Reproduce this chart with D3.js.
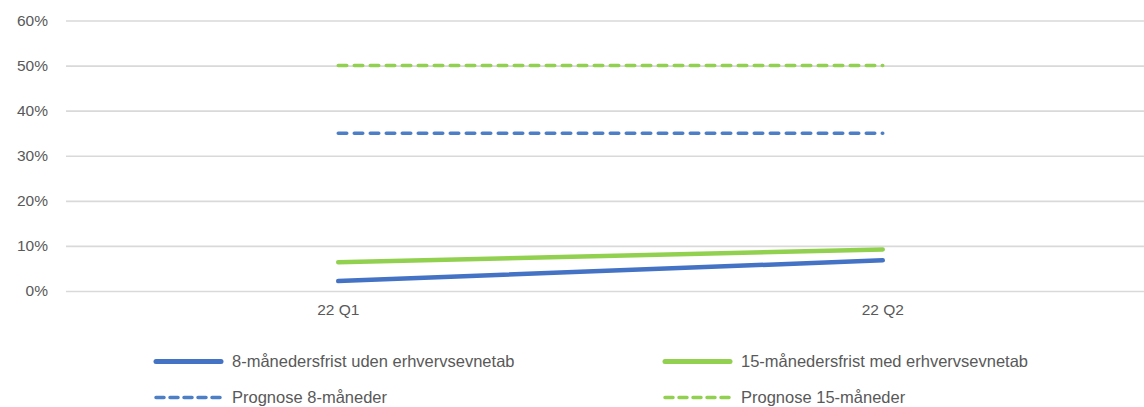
<!DOCTYPE html>
<html>
<head>
<meta charset="utf-8">
<script src="https://cdn.jsdelivr.net/npm/d3@7"></script>
<style>
  html, body { margin: 0; padding: 0; background: #fff; }
  svg { display: block; font-family: "Liberation Sans", Arial, sans-serif; }
</style>
</head>
<body>
<svg id="chart" width="1144" height="407"></svg>
<script>
const categories = ["22 Q1", "22 Q2"];
const series8 = [0.022, 0.068];
const series15 = [0.064, 0.092];
const prognose8 = [0.35, 0.35];
const prognose15 = [0.50, 0.50];
const yTicks = [0, 0.1, 0.2, 0.3, 0.4, 0.5, 0.6];

const seriesList = [
  { name: "8-månedersfrist uden erhvervsevnetab", values: series8, color: "#4472C4", dashed: false },
  { name: "15-månedersfrist med erhvervsevnetab", values: series15, color: "#92D050", dashed: false },
  { name: "Prognose 8-måneder", values: prognose8, color: "#4C7FC6", dashed: true },
  { name: "Prognose 15-måneder", values: prognose15, color: "#92D050", dashed: true }
];

const svg = d3.select("#chart");
const plotLeft = 66, plotRight = 1155, plotTop = 20.5, plotBottom = 291;

const x = d3.scaleBand().domain(categories).range([plotLeft, plotRight]).padding(0);
const y = d3.scaleLinear().domain([0, 0.6]).range([plotBottom, plotTop]);

// gridlines
const grid = svg.append("g").attr("transform", `translate(${plotLeft},0)`)
  .call(d3.axisLeft(y).tickValues(yTicks).tickSize(-(plotRight - plotLeft)).tickFormat(""));
grid.select(".domain").remove();
grid.selectAll("line").attr("stroke", "#D9D9D9").attr("stroke-width", 1.6);

// y labels
const yAxis = svg.append("g").attr("transform", `translate(48,0)`)
  .call(d3.axisLeft(y).tickValues(yTicks).tickSize(0).tickPadding(0).tickFormat(d3.format(".0%")));
yAxis.select(".domain").remove();
yAxis.selectAll("text").attr("fill", "#595959").style("font-size", "15.5px")
  .style("font-family", "'Liberation Sans', Arial, sans-serif");

// x labels
const xAxis = svg.append("g").attr("transform", `translate(0,${plotBottom})`)
  .call(d3.axisBottom(x).tickSize(0).tickPadding(13));
xAxis.select(".domain").remove();
xAxis.selectAll("text").attr("fill", "#595959").style("font-size", "15.5px")
  .style("font-family", "'Liberation Sans', Arial, sans-serif");

const line = d3.line()
  .x((d, i) => x(categories[i]) + x.bandwidth() / 2)
  .y(d => y(d));

// dashed first, then solid
const order = [2, 3, 0, 1];
order.forEach(k => {
  const s = seriesList[k];
  svg.append("path")
    .datum(s.values)
    .attr("d", line)
    .attr("fill", "none")
    .attr("stroke", s.color)
    .attr("stroke-width", s.dashed ? 3.5 : 4.5)
    .attr("stroke-linecap", "round")
    .attr("stroke-dasharray", s.dashed ? "8.5,7.5" : null);
});

// legend
const legendPos = [
  { lx: 156, ly: 361.5 },
  { lx: 665, ly: 361.5 },
  { lx: 156, ly: 397.5 },
  { lx: 665, ly: 397.5 }
];
seriesList.forEach((s, i) => {
  const p = legendPos[i];
  const g = svg.append("g").attr("transform", `translate(${p.lx},${p.ly})`);
  g.append("line")
    .attr("x1", 0).attr("x2", s.dashed ? 66 : 65)
    .attr("y1", 0).attr("y2", 0)
    .attr("stroke", s.color)
    .attr("stroke-width", s.dashed ? 3.5 : 5)
    .attr("stroke-linecap", "round")
    .attr("stroke-dasharray", s.dashed ? "8,6" : null);
  g.append("text")
    .attr("x", 76).attr("y", 0).attr("dy", "0.34em")
    .attr("fill", "#595959")
    .style("font-size", "16.5px")
    .text(s.name);
});
</script>
</body>
</html>
